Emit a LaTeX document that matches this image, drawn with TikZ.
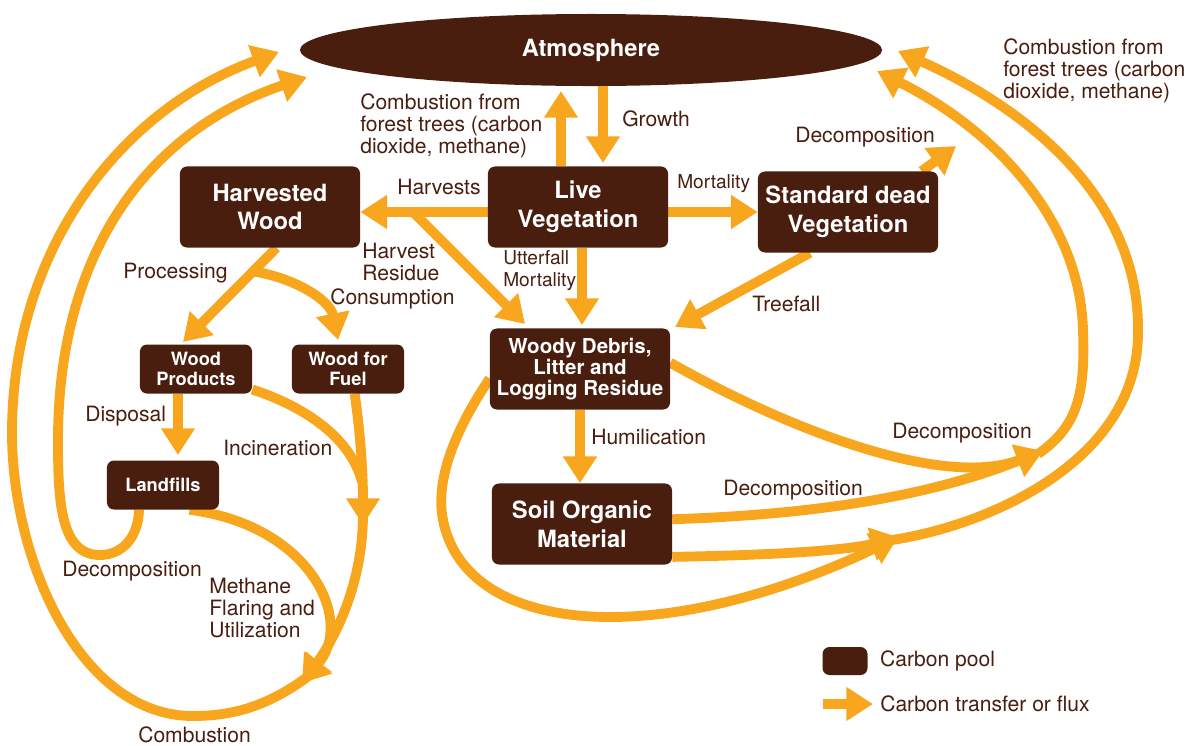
\documentclass[tikz,border=0pt]{standalone}
\usepackage{fontspec}
\setmainfont{TeX Gyre Heros}
\usetikzlibrary{arrows.meta,positioning,shapes.geometric,calc,backgrounds}
\definecolor{poolbrown}{HTML}{4A1E0F}
\definecolor{fluxorange}{HTML}{F8A61E}
\tikzset{
  pool/.style={rectangle, rounded corners=5pt, fill=poolbrown, text=white, align=center, inner sep=0pt,
    minimum width=4.5cm, minimum height=2.025cm, font=\fontsize{16.9}{20.4}\selectfont\bfseries},
  subpool/.style={pool, minimum width=2.8cm, minimum height=1.225cm, font=\fontsize{13}{14.2}\selectfont\bfseries},
  fluxline/.style={draw=fluxorange, line width=7pt},
  flux/.style={fluxline, -{Triangle[length=19pt,width=23pt]}},
  lbl/.style={text=poolbrown, align=left, anchor=west, inner sep=0pt, font=\fontsize{15}{15.6}\selectfont},
  smalllbl/.style={lbl, font=\fontsize{13.6}{15.6}\selectfont}
}

\begin{document}
\begin{tikzpicture}[x=0.025cm, y=-0.025cm]
    \useasboundingbox (0,0) rectangle (1192,745);

    \node[ellipse, fill=poolbrown, text=white, inner sep=0pt, minimum width=14.55cm, minimum height=1.8cm,
          font=\fontsize{16.9}{20.4}\selectfont\bfseries] (Atmos) at (591,50) {Atmosphere};
    \node[pool] (Live) at (578,207) {Live\\Vegetation};
    \node[pool] (Harv) at (270,207) {Harvested\\Wood};
    \node[pool] (Dead) at (848,212) {Standard dead\\Vegetation};
    \node[pool, font=\fontsize{14.6}{15.2}\selectfont\bfseries] (Woody) at (580,369) {Woody Debris,\\Litter and\\Logging Residue};
    \node[pool] (Soil) at (582,524) {Soil Organic\\Material};
    \node[subpool] (Prod) at (196,369) {Wood\\Products};
    \node[subpool] (Fuel) at (348,369) {Wood for\\Fuel};
    \node[subpool] (Land) at (163,485) {Landfills};
    \node[subpool, minimum width=1.125cm, minimum height=0.7cm] (KeyPool) at (845,661) {};

    \node[lbl] (CombL) at (360,126) {Combustion from\\forest trees (carbon\\dioxide, methane)};
    \node[lbl] (GrowL) at (622,119) {Growth};
    \node[lbl] (HarvL) at (397,187) {Harvests};
    \node[smalllbl] (MortL) at (677,184) {Mortality};
    \node[lbl] (ResL) at (362,262) {Harvest\\Residue};
    \node[smalllbl] (UttL) at (503,271) {Utterfall\\Mortality};
    \node[lbl] (ProcL) at (123,273) {Processing};
    \node[lbl] (ConsL) at (330,299) {Consumption};
    \node[lbl] (TreeL) at (752,304) {Treefall};
    \node[lbl] (DecDeadL) at (795,137) {Decomposition};
    \node[lbl] (CombRL) at (1003,71) {Combustion from\\forest trees (carbon\\dioxide, methane)};
    \node[lbl] (DispL) at (85,416) {Disposal};
    \node[lbl] (IncL) at (223,448) {Incineration};
    \node[lbl] (DecLandL) at (62,571) {Decomposition};
    \node[lbl] (MethL) at (209,608) {Methane\\Flaring and\\Utilization};
    \node[lbl] (BurnL) at (138,735) {Combustion};
    \node[lbl] (HumL) at (591,437) {Humilication};
    \node[lbl] (DecSoilL) at (723,490) {Decomposition};
    \node[lbl] (DecWoodyL) at (892,433) {Decomposition};

    \coordinate (HvY) at (0,212);
    \coordinate (HvRes) at (413,212);
    \coordinate (ResTip) at (525,324);
    \coordinate (CombUp) at (561,91);
    \coordinate (GrowDn) at (603,163);
    \coordinate (UttTip) at (582,325);
    \coordinate (DeadTip) at (956,146);
    \coordinate (TreeTip) at (675,327);
    \coordinate (ProdTip) at (183,342);
    \coordinate (FuelIn) at (338,340);
    \coordinate (DispTip) at (178,455);
    \coordinate (FuelTip) at (363,525);
    \coordinate (FuelOut) at (363,514);
    \coordinate (IncMerge) at (362,482);
    \coordinate (BurnTip) at (302,683);
    \coordinate (BurnOut) at (310,675);
    \coordinate (AtmL1) at (279,52);
    \coordinate (AtmL2) at (307,77);
    \coordinate (DecTip) at (1043,451);
    \coordinate (DecOut) at (1038,454);
    \coordinate (SoilTip) at (898,537);
    \coordinate (SoilOut) at (892,540);
    \coordinate (AtmR1) at (898,51);
    \coordinate (AtmR2) at (877,71);
    \coordinate (KeyTail) at (823,704);
    \coordinate (KeyTip) at (873,704);
    \coordinate (ConsOut) at ($(Harv.-81)!0.25!(ProdTip)$);

    \node[lbl, right=0.3cm of KeyPool] (PoolL) {Carbon pool};
    \node[lbl, right=0.175cm of KeyTip] (FluxL) {Carbon transfer or flux};

    \begin{scope}[on background layer]
    \draw[flux] (Live.north -| CombUp) -- (CombUp);
    \draw[flux] (Atmos.south -| GrowDn) -- (GrowDn);
    \draw[flux] (Live.west |- HvY) -- (Harv.east |- HvY);
    \draw[flux] (HvRes) -- (ResTip);
    \draw[flux] (Live.east |- HvY) -- (Dead.west |- HvY);
    \draw[flux] (Live.south -| UttTip) -- (UttTip);
    \draw[flux] (Dead.29) -- (DeadTip);
    \draw[flux] (Dead.-133) -- (TreeTip);
    \draw[flux] (Woody.south) -- (Woody.south |- Soil.north);
    \draw[flux] (Harv.-81) -- (ProdTip);
    \draw[flux] (ConsOut) .. controls (295,278) and (330,300) .. (FuelIn);
    \draw[flux] (Prod.south -| DispTip) -- (DispTip);
    \draw[flux] (Fuel.-75) .. controls (360,430) and (363,470) .. (FuelTip);
    \draw[fluxline] (Prod.-20) .. controls (300,405) and (350,435) .. (IncMerge);
    \draw[flux] (FuelOut) .. controls (363,590) and (330,645) .. (BurnTip);
    \draw[flux] (Land.-43) .. controls (310,525) and (355,620) .. (BurnTip);
    \draw[flux] (BurnOut) .. controls (270,705) and (235,716) .. (193,716)
                .. controls (80,716) and (12,560) .. (12,433)
                .. controls (12,250) and (120,110) .. (AtmL1);
    \draw[flux] (Land.-134) .. controls (138,540) and (120,555) .. (100,555)
                .. controls (60,555) and (58,500) .. (58,440)
                .. controls (58,250) and (150,130) .. (AtmL2);
    \draw[flux] (Woody.4) .. controls (780,425) and (940,490) .. (DecTip);
    \draw[flux] (Soil.3) .. controls (800,515) and (920,500) .. (DecTip);
    \draw[flux] (Soil.-20) .. controls (780,555) and (850,550) .. (SoilTip);
    \draw[flux] (Woody.186) .. controls (455,430) and (435,480) .. (443,520)
                .. controls (457,590) and (530,617) .. (610,617)
                .. controls (720,617) and (830,570) .. (SoilTip);
    \draw[flux] (DecOut) .. controls (1080,425) and (1085,390) .. (1083,330)
                .. controls (1080,220) and (995,130) .. (AtmR2);
    \draw[flux] (SoilOut) .. controls (990,525) and (1140,460) .. (1138,330)
                .. controls (1139,200) and (1030,110) .. (AtmR1);
    \draw[flux] (KeyTail) -- (KeyTip);
    \end{scope}
\end{tikzpicture}
\end{document}
